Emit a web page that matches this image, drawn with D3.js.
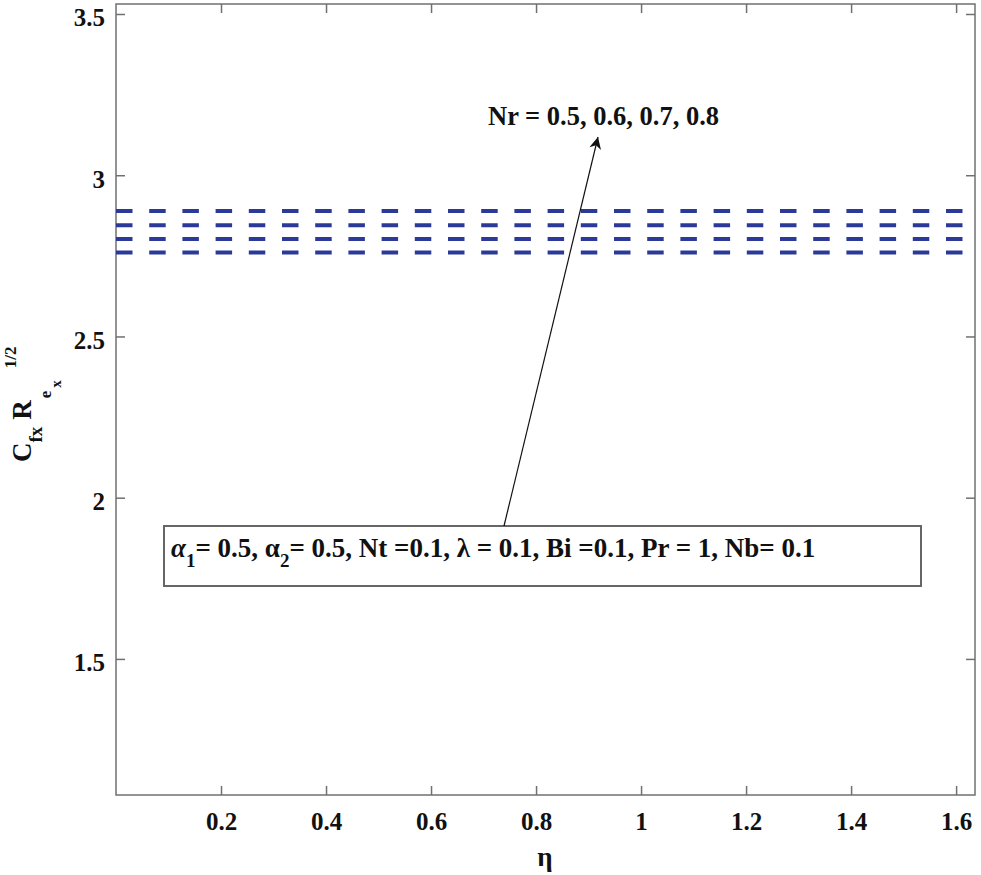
<!DOCTYPE html>
<head>
  <meta charset="utf-8">
  <script src="https://d3js.org/d3.v7.min.js"></script>
  <style>
    body { margin:0; background:#fff; }
    text { font-family: "Liberation Serif", "Times New Roman", serif; font-weight: bold; fill:#111; }
  </style>
</head>

<body>
  <script>

    var width = 981,
        height = 875;

    // data
    var nrValues = [0.5, 0.6, 0.7, 0.8];
    var cfValues = [2.760, 2.802, 2.845, 2.889];   // Cfx Rex^1/2, constant along eta
    var etaRange = [0, 1.636];
    var xTicks = [0.2, 0.4, 0.6, 0.8, 1, 1.2, 1.4, 1.6];
    var yTicks = [1.5, 2, 2.5, 3, 3.5];

    var mLeft = 116, mRight = 975, mTop = 4, mBottom = 795;

    var svg = d3.select("body").append("svg")
      .attr("width", width)
      .attr("height", height);

    var x = d3.scaleLinear().domain([0, 1.636]).range([mLeft, mRight]);
    var y = d3.scaleLinear().domain([1.078, 3.531]).range([mBottom, mTop]);

    // frame
    svg.append("rect")
      .attr("x", mLeft).attr("y", mTop)
      .attr("width", mRight - mLeft).attr("height", mBottom - mTop)
      .attr("fill", "none").attr("stroke", "#707070").attr("stroke-width", 1.5);

    // inward ticks on all four sides
    var tickLen = 9;
    function styleTicks(g) {
      g.select(".domain").remove();
      g.selectAll("line").attr("stroke", "#707070").attr("stroke-width", 1.5);
      g.selectAll("text").attr("font-size", 25)
        .style("font-family", "Liberation Serif").style("font-weight", "bold").attr("fill", "#111");
    }
    svg.append("g").attr("transform", "translate(0," + mBottom + ")")
      .call(d3.axisBottom(x).tickValues(xTicks).tickSize(-tickLen).tickFormat(d3.format("")))
      .call(styleTicks)
      .selectAll("text").attr("y", 35).attr("dy", 0);
    svg.append("g").attr("transform", "translate(0," + mTop + ")")
      .call(d3.axisTop(x).tickValues(xTicks).tickSize(-tickLen).tickFormat(""))
      .call(styleTicks);
    svg.append("g").attr("transform", "translate(" + mLeft + ",0)")
      .call(d3.axisLeft(y).tickValues(yTicks).tickSize(-tickLen).tickFormat(d3.format("")))
      .call(styleTicks)
      .selectAll("text").attr("x", -11).attr("dy", 12);
    svg.append("g").attr("transform", "translate(" + mRight + ",0)")
      .call(d3.axisRight(y).tickValues(yTicks).tickSize(-tickLen).tickFormat(""))
      .call(styleTicks);

    // dashed lines, one per Nr
    var line = d3.line().x(function(d) { return x(d[0]); }).y(function(d) { return y(d[1]); });
    svg.selectAll(".series").data(cfValues).enter()
      .append("path")
      .attr("class", "series")
      .attr("d", function(v) { return line(etaRange.map(function(e) { return [e, v]; })); })
      .attr("fill", "none")
      .attr("stroke", "#2b3a98")
      .attr("stroke-width", 4)
      .attr("stroke-dasharray", "16.5,16.7");

    // axis labels
    svg.append("text")
      .attr("x", 545).attr("y", 866)
      .attr("text-anchor", "middle")
      .attr("font-size", 27)
      .text("η");

    var yl = svg.append("text")
      .attr("transform", "translate(31,462) rotate(-90)")
      .attr("font-size", 27);
    yl.append("tspan").text("C");
    yl.append("tspan").attr("font-size", 19).attr("dy", 11).text("fx");
    yl.append("tspan").attr("dy", -11).attr("dx", 7).text("R");
    yl.append("tspan").attr("font-size", 17).attr("dy", 20).attr("dx", 2).text("e");
    yl.append("tspan").attr("font-size", 15).attr("dy", 10).attr("dx", 3).text("x");
    yl.append("tspan").attr("font-size", 17).attr("dy", -45).attr("dx", 12).text("1/2");

    // parameter box
    svg.append("rect")
      .attr("x", 164).attr("y", 526)
      .attr("width", 757).attr("height", 60)
      .attr("fill", "#fff").attr("stroke", "#666").attr("stroke-width", 2);

    var pt = svg.append("text").attr("x", 171).attr("y", 557).attr("font-size", 27);
    pt.append("tspan").style("font-style", "italic").text("α");
    pt.append("tspan").attr("font-size", 19).attr("dy", 10).text("1");
    pt.append("tspan").attr("dy", -10).text("= 0.5, α");
    pt.append("tspan").attr("font-size", 19).attr("dy", 10).text("2");
    pt.append("tspan").attr("dy", -10).text("= 0.5, Nt =0.1, λ = 0.1, Bi =0.1, Pr = 1, Nb= 0.1");

    // arrow and Nr label
    svg.append("defs").append("marker")
      .attr("id", "head")
      .attr("viewBox", "0 0 10 10")
      .attr("refX", 10).attr("refY", 5)
      .attr("markerWidth", 18).attr("markerHeight", 12)
      .attr("markerUnits", "userSpaceOnUse")
      .attr("orient", "auto")
      .append("path").attr("d", "M0,0 L10,5 L0,10 L3,5 Z").attr("fill", "#111");

    svg.append("line")
      .attr("x1", 504).attr("y1", 526)
      .attr("x2", 598).attr("y2", 137)
      .attr("stroke", "#111").attr("stroke-width", 1.2)
      .attr("marker-end", "url(#head)");

    svg.append("text")
      .attr("x", 488).attr("y", 125)
      .attr("font-size", 26.5)
      .text("Nr = " + nrValues.map(function(d) { return d.toFixed(1); }).join(", "));

  </script>
</body>
